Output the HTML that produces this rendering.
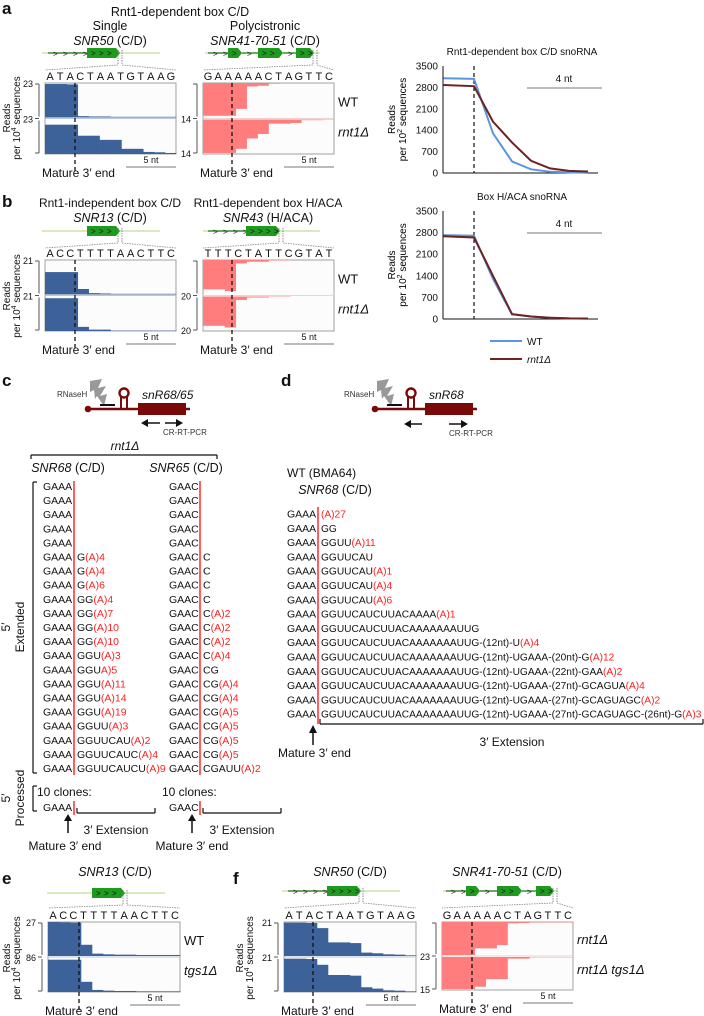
<!DOCTYPE html>
<html><head><meta charset="utf-8"><style>
html,body{margin:0;padding:0;background:#fff}
svg{display:block;font-family:"Liberation Sans",sans-serif}
</style></head><body>
<svg id="fig" width="704" height="1016" viewBox="0 0 704 1016" xmlns="http://www.w3.org/2000/svg"></svg>
<script>
// ---------- coverage data (fraction of half-panel height per nucleotide) ----------
const aLeftWT=[0.97,0.97,0.96,0.04,0.03,0.03,0.02,0.02,0.02,0.02,0.02,0.02];
const aLeftMut=[0.85,0.85,0.85,0.53,0.53,0.41,0.41,0.15,0.15,0.06,0.05,0.03];
const aRightWT=[0.95,0.95,0.95,0.75,0.1,0.08,0.02,0.01,0.01,0,0,0];
const aRightMut=[0.97,0.97,0.97,0.85,0.55,0.42,0.12,0.12,0.1,0.02,0.02,0.01];
const bLeftWT=[0.65,0.65,0.65,0.16,0.04,0.03,0.02,0.02,0.02,0.02,0.02,0.02];
const bLeftMut=[0.95,0.95,0.95,0.12,0.04,0.04,0.01,0.01,0.01,0.01,0.01,0.01];
const bRightWT=[0.85,0.85,0.9,0.1,0.05,0.05,0.01,0.01,0,0,0,0];
const bRightMut=[0.85,0.85,0.9,0.1,0.03,0.03,0.01,0.01,0,0,0,0];
const eWT=[1.0,0.99,0.98,0.33,0.07,0.05,0.04,0.04,0.03,0.03,0.03,0.03];
const eMut=[0.95,0.95,0.95,0.3,0.06,0.04,0.03,0.03,0.02,0.02,0.02,0.02];
const fLeftWT=[0.98,0.98,0.97,0.82,0.4,0.4,0.38,0.1,0.08,0.05,0.04,0.02];
const fLeftMut=[0.98,0.98,0.97,0.8,0.5,0.5,0.48,0.14,0.1,0.05,0.04,0.02];
const fRightWT=[1.0,1.0,1.0,0.8,0.8,0.7,0.04,0.03,0.01,0.01,0.01,0.01];
const fRightMut=[0.97,0.97,0.97,0.9,0.67,0.67,0.05,0.05,0.01,0.01,0.01,0.01];
// ---------- line chart data ----------
const ntPos=[-1.6,0,1,2,3,4,5,6];
const cdWT=[3100,3080,1300,380,120,40,20,10];
const cdMut=[2880,2840,1680,1000,400,150,70,50];
const hacaWT=[2720,2700,1300,150,80,40,20,10];
const hacaMut=[2680,2640,1400,160,80,40,20,15];
const yTicks=[0,700,1400,2100,2800,3500];
// ---------- clone sequences ----------
const c68=[["",""],["",""],["",""],["",""],["",""],["G","(A)4"],["G","(A)4"],["G","(A)6"],["GG","(A)4"],["GG","(A)7"],["GG","(A)10"],["GG","(A)10"],["GGU","(A)3"],["GGU","A)5"],["GGU","(A)11"],["GGU","(A)14"],["GGU","(A)19"],["GGUU","(A)3"],["GGUUCAU","(A)2"],["GGUUCAUC","(A)4"],["GGUUCAUCU","(A)9"]];
const c65=[["",""],["",""],["",""],["",""],["",""],["C",""],["C",""],["C",""],["C",""],["C","(A)2"],["C","(A)2"],["C","(A)2"],["C","(A)4"],["CG",""],["CG","(A)4"],["CG","(A)4"],["CG","(A)5"],["CG","(A)5"],["CG","(A)5"],["CG","(A)5"],["CGAUU","(A)2"]];
const dRows=[["","(A)27"],["GG",""],["GGUU","(A)11"],["GGUUCAU",""],["GGUUCAU","(A)1"],["GGUUCAU","(A)4"],["GGUUCAU","(A)6"],["GGUUCAUCUUACAAAA","(A)1"],["GGUUCAUCUUACAAAAAAAUUG",""],["GGUUCAUCUUACAAAAAAAUUG-(12nt)-U","(A)4"],["GGUUCAUCUUACAAAAAAAUUG-(12nt)-UGAAA-(20nt)-G","(A)12"],["GGUUCAUCUUACAAAAAAAUUG-(12nt)-UGAAA-(22nt)-GAA","(A)2"],["GGUUCAUCUUACAAAAAAAUUG-(12nt)-UGAAA-(27nt)-GCAGUA","(A)4"],["GGUUCAUCUUACAAAAAAAUUG-(12nt)-UGAAA-(27nt)-GCAGUAGC","(A)2"],["GGUUCAUCUUACAAAAAAAUUG-(12nt)-UGAAA-(27nt)-GCAGUAGC-(26nt)-G","(A)3"]];

const NS="http://www.w3.org/2000/svg";
const svg=document.getElementById('fig');
function el(tag,attrs,parent,txt){const e=document.createElementNS(NS,tag);for(const k in attrs)e.setAttribute(k,attrs[k]);if(txt!==undefined)e.textContent=txt;(parent||svg).appendChild(e);return e;}
function grp(name){const g=el('g',{});return g;}
function txt(g,x,y,s,opt){opt=opt||{};const t=el('text',{x:x,y:y,'font-size':opt.fs||12,fill:opt.fill||'#111','text-anchor':opt.anchor||'start','font-style':opt.it?'italic':'normal','font-weight':opt.bold?'bold':'normal'},g,s);if(opt.rot)t.setAttribute('transform','rotate(-90 '+x+' '+y+')');if(opt.name){}return t;}
function line(g,x1,y1,x2,y2,st,w,dash){const l=el('line',{x1:x1,y1:y1,x2:x2,y2:y2,stroke:st||'#111','stroke-width':w||1},g);if(dash)l.setAttribute('stroke-dasharray',dash);return l;}

[['a',2,14],['b',2,207],['c',2,386],['d',281,386],['e',2,884],['f',233,884]].forEach(p=>{txt(svg,p[1],p[2],p[0],{fs:17,bold:true,name:'panel-label-'+p[0]});});

function gene(g,x0,x1,y,parts,zx,zl,zr,zy){
  line(g,x0,y,x1,y,'#cfe3a8',1.5);
  parts.forEach(p=>{
    if(p[0]==='l'){line(g,p[1],y,p[2],y,'#1f7a1f',1.2);for(let x=p[1]+5;x<p[2]-2;x+=10)txt(g,x,y+3.5,'>',{fs:8,fill:'#111'});}
    else{el('path',{d:`M${p[1]} ${y-5}H${p[2]-4}L${p[2]} ${y}L${p[2]-4} ${y+5}H${p[1]}Z`,fill:'#1e9b1e'},g);for(let x=p[1]+4;x<p[2]-5;x+=8)txt(g,x,y+3,'>',{fs:8,fill:'#111'});}
  });
  line(g,zx,y-3,zx,y+12,'#777',0.8,'1.5,1');line(g,zx+4,y-3,zx+4,y+12,'#777',0.8,'1.5,1');
  line(g,zx,y+12,zl,zy,'#888',0.8,'1.5,1');line(g,zx+4,y+12,zr,zy,'#888',0.8,'1.5,1');
}

function coverage(name,x0,x1,yT,yB,seq,top,bot,color,mode,dashX,ticks,labels){
  const g=grp(name);
  const mid=(yT+yB)/2, nw=(x1-x0)/12;
  const xs=i=>x0+i*nw;
  const sw=(x1-x0)/seq.length;
  seq.split('').forEach((c,i)=>txt(g,x0+(i+0.5)*sw,yT-3,c,{fs:11,anchor:'middle'}));
  el('rect',{x:x0,y:yT,width:x1-x0,height:yB-yT,fill:'#fcfcfd',stroke:'#a0a0a0','stroke-width':1},g);
  [[top,yT,mid-1],[bot,mid+1,yB]].forEach((h,hi)=>{
    h[0].forEach((v,i)=>{
      const hh=v*(h[2]-h[1]);
      const y=mode==='up'?h[2]-hh:h[1];
      const r=el('rect',{x:xs(i),y:y,width:nw+0.3,height:Math.max(hh,0),fill:color},g);
      
      
    });
  });
  line(g,x0,mid,x1,mid,mode==='up'?'#b8c8e0':'#f4d0d0',1);
  line(g,dashX,yT,dashX,yB+20,'#111',1.3,'4,3');
  const bx=x0-6;
  line(g,bx,yT+1,bx,mid-2,'#555',1);line(g,bx,mid+2,bx,yB-1,'#555',1);
  line(g,bx-4,yT+1,bx,yT+1,'#555',1);line(g,bx-4,mid,bx,mid,'#555',1);line(g,bx-4,yB-1,bx,yB-1,'#555',1);
  if(ticks[0])txt(g,bx-6,yT+4,ticks[0],{fs:9,anchor:'end'});
  if(ticks[1])txt(g,bx-6,mid+4,ticks[1],{fs:9,anchor:'end'});
  if(ticks[2])txt(g,bx-6,yB+3,ticks[2],{fs:9,anchor:'end'});
  line(g,x1-50,yB+13,x1,yB+13,'#777',1);txt(g,x1-25,yB+9,'5 nt',{fs:9,anchor:'middle'});
  txt(g,x0-3,yB+23,'Mature 3\u2032 end',{fs:12});
  if(labels){txt(g,x1+4,mid-12,labels[0],{fs:13,it:labels[0]!=='WT'});txt(g,x1+4,mid+18,labels[1],{fs:13,it:true});}
  return g;
}
function readsLabel(x,y,exp){const g=grp('y-axis-title');txt(g,x,y,'Reads',{fs:10,anchor:'middle',rot:true});
  const t2=el('text',{x:x+10,y:y,'font-size':10,'text-anchor':'middle',transform:`rotate(-90 ${x+10} ${y})`,fill:'#111'},g);
  t2.textContent='per 10';el('tspan',{'font-size':7,dy:-4},t2,exp);el('tspan',{dy:4},t2,' sequences');}
function itTitle(g,x,y,a,b){const t=txt(g,x,y,'',{fs:12.5,anchor:'middle'});el('tspan',{'font-style':'italic'},t,a);el('tspan',{},t,b);}

// ---- Panel a ----
let g=grp('panel-a-titles');
txt(g,180,16,'Rnt1-dependent box C/D',{fs:12.5,anchor:'middle'});
txt(g,110,30,'Single',{fs:12.5,anchor:'middle'});
itTitle(g,110,45,'SNR50',' (C/D)');
txt(g,265,30,'Polycistronic',{fs:12.5,anchor:'middle'});
itTitle(g,265,45,'SNR41-70-51',' (C/D)');
gene(grp('gene-snr50'),42,160,53,[['l',48,87],['b',87,120]],118,45,176,70);
gene(grp('gene-snr41-70-51'),205,320,53,[['l',208,228],['b',228,242],['l',242,258],['b',258,283],['l',283,296],['b',296,314]],313,203,334,70);
coverage('coverage-snr50',45,176,83,154,'ATACTAATGTAAG',aLeftWT,aLeftMut,'#3d6299','up',75,['23','23',''],null);
coverage('coverage-snr41',203,334,83,154,'GAAAAACTAGTTC',aRightWT,aRightMut,'#ff7d7d','down',232,['','14','14'],['WT','rnt1\u0394']);
readsLabel(10,118,'4');

// ---- Panel b ----
g=grp('panel-b-titles');
txt(g,110,207,'Rnt1-independent box C/D',{fs:12,anchor:'middle'});
itTitle(g,110,222,'SNR13',' (C/D)');
txt(g,268,207,'Rnt1-dependent box H/ACA',{fs:12,anchor:'middle'});
itTitle(g,268,222,'SNR43',' (H/ACA)');
gene(grp('gene-snr13'),42,160,231,[['b',87,120]],118,45,176,248);
gene(grp('gene-snr43'),203,320,231,[['l',208,246],['b',246,280]],279,203,334,248);
coverage('coverage-snr13',45,176,260,331,'ACCTTTTAACTTC',bLeftWT,bLeftMut,'#3d6299','up',75,['21','21',''],null);
coverage('coverage-snr43',203,334,260,331,'TTTCTATTCGTAT',bRightWT,bRightMut,'#ff7d7d','down',232,['','20','20'],['WT','rnt1\u0394']);
readsLabel(10,296,'4');

// ---- Line charts ----
function lineChart(name,title,yTop,yBot,wt,mut){
  const g=grp(name);
  const xL=443,xR=598;
  const X=p=>474+p*19, Y=v=>yBot-(v/3500)*(yBot-yTop);
  txt(g,522,yTop-11,title,{fs:10,anchor:'middle'});
  line(g,xL,yTop,xL,yBot,'#111',1);line(g,xL,yBot,xR,yBot,'#111',1);
  yTicks.forEach(v=>{txt(g,438,Y(v)+3.5,String(v),{fs:10,anchor:'end'});});
  line(g,X(0),yTop,X(0),yBot,'#111',1.2,'4,3');
  [[wt,'#5a97de','wt-line'],[mut,'#6e2222','rnt1-line']].forEach(s=>{
    const p=el('polyline',{points:s[0].map((v,i)=>X(ntPos[i])+','+Y(v)).join(' '),fill:'none',stroke:s[1],'stroke-width':2},g);
    
  });
  line(g,527,yTop+22,602,yTop+22,'#777',1);txt(g,564,yTop+16,'4 nt',{fs:10,anchor:'middle'});
  const cy=(yTop+yBot)/2;
  el('text',{x:395,y:cy,'font-size':10,'text-anchor':'middle',transform:`rotate(-90 395 ${cy})`},g,'Reads');
  const t2=el('text',{x:406,y:cy,'font-size':10,'text-anchor':'middle',transform:`rotate(-90 406 ${cy})`},g);
  t2.textContent='per 10';el('tspan',{'font-size':7,dy:-4},t2,'2');el('tspan',{dy:4},t2,' sequences');
}
lineChart('chart-cd-snorna','Rnt1-dependent box C/D snoRNA',66,173,cdWT,cdMut);
lineChart('chart-haca-snorna','Box H/ACA snoRNA',211,319,hacaWT,hacaMut);
g=grp('legend');
line(g,490,341,522,341,'#5a97de',2);txt(g,527,345,'WT',{fs:10});
line(g,490,359,522,359,'#6e2222',2);txt(g,527,363,'rnt1\u0394',{fs:10,it:true});

// ---- construct diagrams ----
function construct(name,x,label){
  const g=grp(name);
  txt(g,x-33,397,'RNaseH',{fs:8,fill:'#333'});
  el('path',{d:`M${x} 381 L${x+12} 379 L${x+8} 388 L${x+16} 386 L${x+10} 396 L${x+17} 394 L${x+14} 406 L${x+7} 396 L${x+5} 399 L${x+4} 390 L${x} 392 Z`,fill:'#999'},g);
  el('circle',{cx:x-2,cy:409,r:3.3,fill:'#7a0a0a'},g);
  line(g,x-2,409,x+100,409,'#7a0a0a',2.5);
  line(g,x+10,405,x+25,405,'#111',2);
  line(g,x+31,409,x+31,397,'#7a0a0a',2);line(g,x+37,409,x+37,397,'#7a0a0a',2);
  el('circle',{cx:x+34,cy:393,r:4.5,fill:'none',stroke:'#7a0a0a','stroke-width':2.4},g);
  el('rect',{x:x+48,y:403,width:48,height:12,fill:'#7a0a0a'},g);
  txt(g,x+52,399,label,{fs:12,it:true});
  return g;
}
g=construct('construct-c',90,'snR68/65');
line(g,145,423,160,423,'#111',1.5);el('path',{d:'M141 423 L148 419 L148 427Z',fill:'#111'},g);
line(g,165,423,178,423,'#111',1.5);el('path',{d:'M183 423 L176 419 L176 427Z',fill:'#111'},g);
txt(g,163,435,'CR-RT-PCR',{fs:8,fill:'#333'});
g=construct('construct-d',377,'snR68');
line(g,408,424,422,424,'#111',1.5);el('path',{d:'M404 424 L411 420 L411 428Z',fill:'#111'},g);
line(g,449,424,463,424,'#111',1.5);el('path',{d:'M468 424 L461 420 L461 428Z',fill:'#111'},g);
txt(g,449,436,'CR-RT-PCR',{fs:8,fill:'#333'});

// ---- Panel c ----
g=grp('panel-c-clones');
txt(g,125,450,'rnt1\u0394',{fs:12,it:true,anchor:'middle'});
line(g,31,455,217,455,'#111',1.2);line(g,31,455,31,459,'#111',1.2);line(g,217,455,217,459,'#111',1.2);
itTitle(g,68,472,'SNR68',' (C/D)');
itTitle(g,186,472,'SNR65',' (C/D)');
const rowY=i=>486+i*14.1;
function cloneCol(g,data,pre,xp,xr,name){
  line(g,xr,481,xr,775,'#ff2a2a',1.5);
  data.forEach((r,i)=>{
    const tt=el('text',{x:xp,y:rowY(i)+4,'font-size':10.5,fill:'#111'},g,pre);
    
    const t2=el('text',{x:xr+3,y:rowY(i)+4,'font-size':10.5,fill:'#111'},g);
    el('tspan',{},t2,r[0]);el('tspan',{fill:'#ff2020'},t2,r[1]);
  });
}
cloneCol(g,c68,'GAAA',43,74,'snr68-clone');
cloneCol(g,c65,'GAAC',169,200,'snr65-clone');
line(g,33,482,33,773,'#111',1.2);line(g,33,482,37,482,'#111',1.2);line(g,33,773,37,773,'#111',1.2);
txt(g,24,627,'Extended',{fs:12,anchor:'middle',rot:true});txt(g,10,627,'5\u2032',{fs:12,anchor:'middle',rot:true});
txt(g,24,798,'Processed',{fs:12,anchor:'middle',rot:true});txt(g,10,798,'5\u2032',{fs:12,anchor:'middle',rot:true});
line(g,33,786,33,811,'#111',1.2);line(g,33,786,37,786,'#111',1.2);line(g,33,811,37,811,'#111',1.2);
[[37,43,74,'GAAA',68,65],[162,169,200,'GAAC',192,192]].forEach(p=>{
  txt(g,p[0],796,'10 clones:',{fs:12});
  txt(g,p[1],811,p[3],{fs:10.5});line(g,p[2],801,p[2],815,'#ff2a2a',1.5);
  line(g,p[2]+3,813,p[2]+81,813,'#111',1.2);line(g,p[2]+3,813,p[2]+3,808,'#111',1.2);line(g,p[2]+81,813,p[2]+81,808,'#111',1.2);
  txt(g,p[2]+42,834,'3\u2032 Extension',{fs:12,anchor:'middle'});
  line(g,p[4],819,p[4],833,'#111',1.5);el('path',{d:`M${p[4]} 814 L${p[4]-4} 821 L${p[4]+4} 821Z`,fill:'#111'},g);
  txt(g,p[5],850,'Mature 3\u2032 end',{fs:12,anchor:'middle'});
});

// ---- Panel d ----
g=grp('panel-d-clones');
txt(g,287,477,'WT (BMA64)',{fs:12});
itTitle(g,335,494,'SNR68',' (C/D)');
line(g,318,507,318,724,'#ff2a2a',1.5);
const dg=el('g',{},g);
dRows.forEach((r,i)=>{
  const y=514+i*14.3+3.5;
  const a=el('text',{x:287,y:y,'font-size':10.5,fill:'#111'},g,'GAAA');
  
  const b=el('text',{x:321,y:y,'font-size':10.5,fill:'#111'},dg);
  el('tspan',{},b,r[0]);el('tspan',{fill:'#ff2020'},b,r[1]);
});
let maxW=0;dg.querySelectorAll('text').forEach(t=>{maxW=Math.max(maxW,t.getComputedTextLength());});
if(maxW>381){const f=381/maxW;dg.setAttribute('transform',`translate(321,0) scale(${f},1) translate(-321,0)`);}
line(g,320,724,703,724,'#111',1.2);line(g,320,724,320,719,'#111',1.2);line(g,703,724,703,719,'#111',1.2);
txt(g,512,746,'3\u2032 Extension',{fs:12,anchor:'middle'});
line(g,313,731,313,745,'#111',1.5);el('path',{d:'M313 725 L309 733 L317 733Z',fill:'#111'},g);
txt(g,278,757,'Mature 3\u2032 end',{fs:12});

// ---- Panel e ----
g=grp('panel-e-title');
itTitle(g,115,876,'SNR13',' (C/D)');
gene(grp('gene-snr13-e'),47,165,893,[['b',92,125]],123,48,180,908);
coverage('coverage-snr13-e',48,180,922,992,'ACCTTTTAACTTC',eWT,eMut,'#3d6299','up',79,['27','86',''],['WT','tgs1\u0394']);
readsLabel(10,958,'4');

// ---- Panel f ----
g=grp('panel-f-titles');
itTitle(g,350,876,'SNR50',' (C/D)');
itTitle(g,507,876,'SNR41-70-51',' (C/D)');
gene(grp('gene-snr50-f'),282,400,891,[['l',288,327],['b',327,361]],359,284,416,908);
gene(grp('gene-snr41-f'),443,558,891,[['l',446,466],['b',466,480],['l',480,497],['b',497,522],['l',522,536],['b',536,554]],553,442,573,908);
coverage('coverage-snr50-f',284,416,922,992,'ATACTAATGTAAG',fLeftWT,fLeftMut,'#3d6299','up',313,['21','21',''],null);
coverage('coverage-snr41-f',442,573,922,990,'GAAAAACTAGTTC',fRightWT,fRightMut,'#ff7d7d','down',472,['','23','15'],['rnt1\u0394','rnt1\u0394  tgs1\u0394']);
readsLabel(243,958,'4');
</script>
</body></html>
